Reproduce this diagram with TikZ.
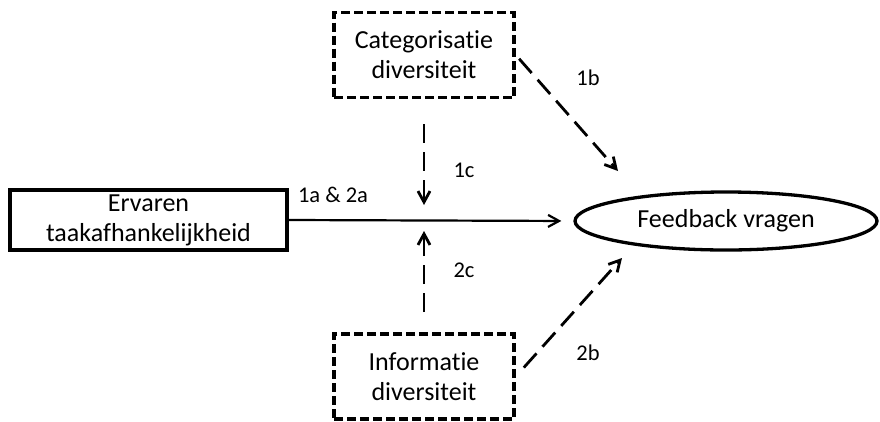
\documentclass[tikz,border=0pt]{standalone}
\usepackage{fontspec}
\setmainfont{Carlito}[Ligatures={NoCommon}]
\usetikzlibrary{arrows.meta,shapes.geometric,positioning}
\tikzset{>={Straight Barb[length=11pt,width=12pt]}}

\begin{document}
\begin{tikzpicture}
	[x=1pt, y=-1pt, inner sep=0pt, align=center,
	factor/.style={draw, line width=3.3pt, minimum width=277pt, minimum height=60pt, font=\fontsize{26}{30}\selectfont},
	moderator/.style={draw, line width=3.6pt, dash pattern=on 9pt off 4pt, minimum width=180pt, minimum height=85pt, font=\fontsize{26}{30}\selectfont},
	outcome/.style={draw, ellipse, line width=3.3pt, minimum width=302pt, minimum height=58pt, font=\fontsize{26}{30}\selectfont},
	pathname/.style={font=\fontsize{22.5}{27}\selectfont},
	effect/.style={->, line width=2.2pt},
	moderation/.style={->, line width=2.8pt, dash pattern=on 19pt off 9pt}]
	
	\useasboundingbox (0,0) rectangle (880,421);
	
	\node[factor]    (ervaren)  at (148.5,220) {Ervaren\\taakafhankelijkheid};
	\node[outcome]   (feedback) at (726,221)   {Feedback vragen};
	\node[moderator] (cat)      at (424,55)    {Categorisatie\\diversiteit};
	\node[moderator] (info)     at (424,376.5) {Informatie\\diversiteit};
	
	\coordinate (c_one)  at (424,205);
	\coordinate (c_two)  at (424,231);
	\coordinate (b_one)  at (618,171);
	\coordinate (b_two)  at (622,258);
	
	\node[pathname] (p_a)   at (333,195) {1a \& 2a};
	\node[pathname] (p_1b)  at (588,78)  {1b};
	\node[pathname] (p_1c)  at (464,170) {1c};
	\node[pathname] (p_2c)  at (464,270) {2c};
	\node[pathname] (p_2b)  at (588,353) {2b};
	
	
	\draw [effect, shorten >=12pt]    (ervaren.east) to (feedback.west);
	\draw [moderation, shorten <=25pt] (cat.south)    to (c_one);
	\draw [moderation, shorten <=20pt] (info.north)   to (c_two);
	\draw [moderation, shorten <=5pt]  (cat.east)     to (b_one);
	\draw [moderation, shorten <=12pt] (info.east)    to (b_two);
\end{tikzpicture}
\end{document}
